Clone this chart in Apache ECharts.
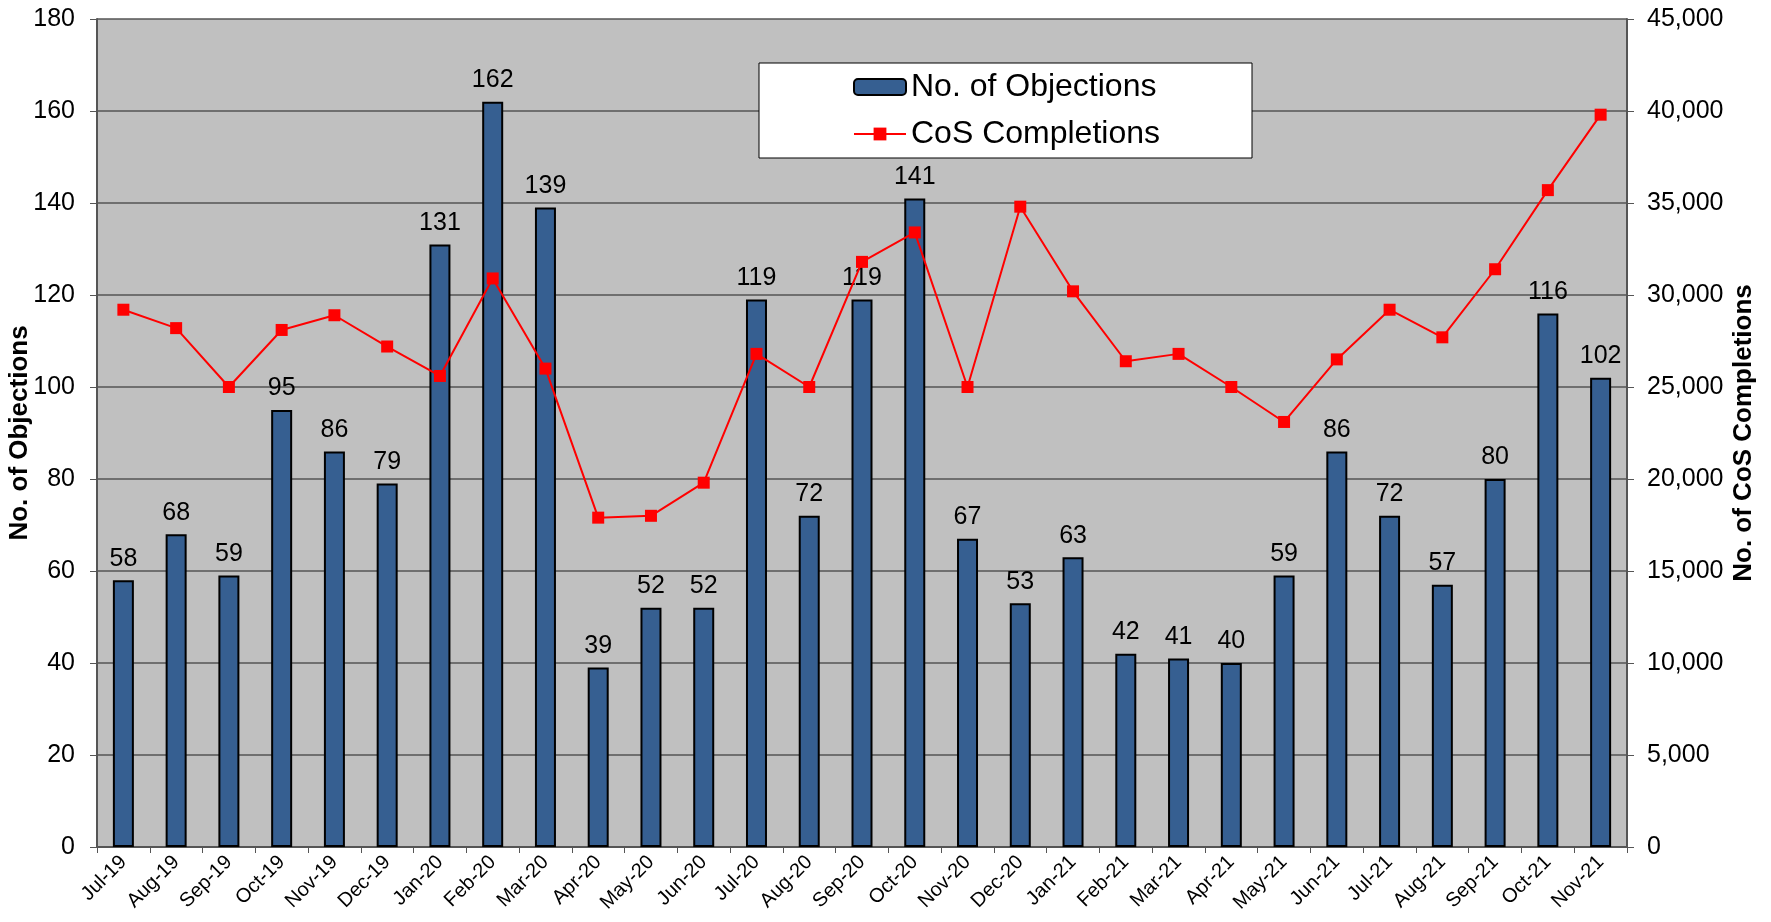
<!DOCTYPE html>
<html>
<head>
<meta charset="utf-8">
<script src="https://cdn.jsdelivr.net/npm/echarts@6/dist/echarts.min.js"></script>
<style>
  html, body { margin: 0; padding: 0; background: #fff; }
  #chart { width: 1771px; height: 922px; }
</style>
</head>
<body>
<div id="chart"></div>
<script>
const months = ['Jul-19', 'Aug-19', 'Sep-19', 'Oct-19', 'Nov-19', 'Dec-19', 'Jan-20', 'Feb-20', 'Mar-20', 'Apr-20',
  'May-20', 'Jun-20', 'Jul-20', 'Aug-20', 'Sep-20', 'Oct-20', 'Nov-20', 'Dec-20', 'Jan-21', 'Feb-21',
  'Mar-21', 'Apr-21', 'May-21', 'Jun-21', 'Jul-21', 'Aug-21', 'Sep-21', 'Oct-21', 'Nov-21']
const objections = [58, 68, 59, 95, 86, 79, 131, 162, 139, 39, 52, 52, 119, 72, 119, 141, 67, 53, 63, 42,
  41, 40, 59, 86, 72, 57, 80, 116, 102]
const cosCompletions = [29200, 28200, 25000, 28100, 28900, 27200, 25600, 30900, 26000, 17900,
  18000, 19800, 26800, 25000, 31800, 33400, 25000, 34800, 30200, 26400,
  26800, 25000, 23100, 26500, 29200, 27700, 31400, 35700, 39800]

const font = 'Liberation Sans, Arial, sans-serif'

const chart = echarts.init(document.getElementById('chart'))
chart.setOption({
  animation: false,
  textStyle: { fontFamily: font },
  grid: {
    left: 97,
    right: 144,
    top: 19,
    bottom: 75,
    containLabel: false,
    outerBoundsMode: 'none',
    show: true,
    backgroundColor: '#c0c0c0',
    borderWidth: 0
  },
  legend: {
    orient: 'vertical',
    left: 759,
    top: 63,
    backgroundColor: '#fff',
    borderColor: '#000',
    borderWidth: 1,
    padding: [8, 92, 8, 94],
    itemGap: 15,
    itemWidth: 52,
    itemHeight: 16,
    textStyle: { fontSize: 32, color: '#000', fontFamily: font },
    data: ['No. of Objections', 'CoS Completions']
  },
  xAxis: {
    type: 'category',
    data: months,
    axisLine: { lineStyle: { color: '#555', width: 2 } },
    axisTick: { show: true, length: 6, lineStyle: { color: '#555', width: 1 } },
    axisLabel: { rotate: 45, fontSize: 20, color: '#000', margin: 12 }
  },
  yAxis: [
    {
      type: 'value',
      min: 0,
      max: 180,
      interval: 20,
      name: 'No. of Objections',
      nameLocation: 'middle',
      nameGap: 64,
      nameMoveOverlap: false,
      nameTextStyle: { fontSize: 26, fontWeight: 'bold', color: '#000' },
      axisLine: { show: true, lineStyle: { color: '#555', width: 2 } },
      axisTick: { show: true, length: 7, lineStyle: { color: '#555' } },
      axisLabel: { fontSize: 25, color: '#000', margin: 22 },
      splitLine: { lineStyle: { color: '#555', width: 1.5 } }
    },
    {
      type: 'value',
      min: 0,
      max: 45000,
      interval: 5000,
      name: 'No. of CoS Completions',
      nameLocation: 'middle',
      nameGap: 104,
      nameMoveOverlap: false,
      nameTextStyle: { fontSize: 26, fontWeight: 'bold', color: '#000' },
      axisLine: { show: true, lineStyle: { color: '#555', width: 2 } },
      axisTick: { show: true, length: 7, lineStyle: { color: '#555' } },
      axisLabel: {
        fontSize: 25,
        color: '#000',
        margin: 20,
        formatter: v => v.toLocaleString('en-US')
      },
      splitLine: { show: false }
    }
  ],
  series: [
    {
      name: 'No. of Objections',
      type: 'bar',
      data: objections,
      barWidth: 21,
      itemStyle: { color: '#365f91', borderColor: '#000', borderWidth: 2 },
      label: { show: true, position: 'top', fontSize: 25, color: '#000', distance: 9 }
    },
    {
      name: 'CoS Completions',
      type: 'line',
      yAxisIndex: 1,
      data: cosCompletions,
      symbol: 'rect',
      symbolSize: 12,
      lineStyle: { color: '#ff0000', width: 2 },
      itemStyle: { color: '#ff0000' }
    }
  ]
})
</script>
</body>
</html>
